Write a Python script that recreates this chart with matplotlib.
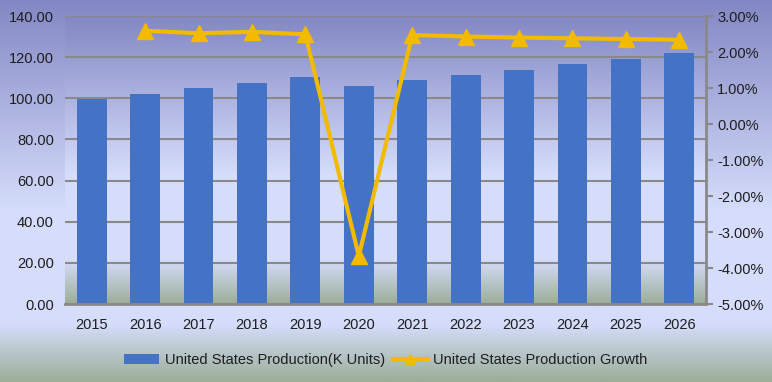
import numpy as np
import matplotlib
matplotlib.use('Agg')
import matplotlib.pyplot as plt
from matplotlib.colors import LinearSegmentedColormap
from matplotlib.ticker import FuncFormatter, MultipleLocator

#%% data
years = ['2015', '2016', '2017', '2018', '2019', '2020',
         '2021', '2022', '2023', '2024', '2025', '2026']
production = [99.6, 102.1, 105.0, 107.4, 110.4, 106.0,
              108.9, 111.3, 113.8, 116.7, 119.1, 122.0]
growth = [np.nan, 2.59, 2.52, 2.56, 2.49, -3.67,
          2.47, 2.43, 2.40, 2.38, 2.36, 2.34]

bar_label = 'United States Production(K Units)'
line_label = 'United States Production Growth'

#%% styling
plt.rcParams['font.family'] = ['Liberation Sans', 'DejaVu Sans']
text_col = '#1e1e1e'
grid_col = '#898989'
bar_col = '#4472C4'
line_col = '#F2BA00'
fs = 10.5

# gradient: purple at top -> light lavender -> grey green at the bottom
grad = LinearSegmentedColormap.from_list(
    'bg', [(0.0, '#9CAE98'), (0.15, '#D5DDFB'), (0.45, '#D5DDFB'), (1.0, '#8387C4')])
g = np.linspace(0, 1, 256).reshape(-1, 1)

fig = plt.figure(figsize=(7.72, 3.82), dpi=100)

# chart area background
ax_bg = fig.add_axes([0, 0, 1, 1], zorder=-2)
ax_bg.imshow(g, cmap=grad, aspect='auto', origin='lower', extent=(0, 1, 0, 1))
ax_bg.axis('off')

pos = [65 / 772, 1 - 304 / 382, 641 / 772, 288 / 382]

# plot area background
ax_pa = fig.add_axes(pos, zorder=-1)
ax_pa.imshow(g, cmap=grad, aspect='auto', origin='lower', extent=(0, 1, 0, 1))
ax_pa.axis('off')

ax = fig.add_axes(pos)
ax.patch.set_visible(False)
x = np.arange(len(years))
bars = ax.bar(x, production, width=0.56, color=bar_col, zorder=2, label=bar_label)
ax.set_xlim(-0.5, len(years) - 0.5)
ax.set_ylim(0, 140)
ax.yaxis.set_major_locator(MultipleLocator(20))
ax.yaxis.set_major_formatter(FuncFormatter(lambda v, p: f'{v:.2f}'))
ax.set_xticks(x)
ax.set_xticklabels(years)
ax.grid(axis='y', color=grid_col, linewidth=1.5, zorder=1)
ax.set_axisbelow(True)
for s in ['top', 'left', 'right']:
    ax.spines[s].set_visible(False)
ax.spines['bottom'].set_color(grid_col)
ax.spines['bottom'].set_linewidth(2)
ax.tick_params(axis='both', length=0, colors=text_col, labelsize=fs)
ax.tick_params(axis='x', pad=10)
ax.tick_params(axis='y', pad=8)

##### growth line on the secondary axis #####
ax2 = ax.twinx()
ax2.patch.set_visible(False)
ln, = ax2.plot(x, growth, color=line_col, linewidth=3, marker='^',
               markersize=11, zorder=3, label=line_label)
ax2.set_ylim(-5, 3)
ax2.yaxis.set_major_locator(MultipleLocator(1))
ax2.yaxis.set_major_formatter(FuncFormatter(lambda v, p: f'{v:.2f}%'))
for s in ['top', 'left', 'bottom']:
    ax2.spines[s].set_visible(False)
ax2.spines['right'].set_color(grid_col)
ax2.spines['right'].set_linewidth(2)
ax2.tick_params(axis='y', length=5, width=1.5, color=grid_col,
                labelcolor=text_col, labelsize=fs, pad=3)

fig.legend([bars, ln], [bar_label, line_label], loc='center',
           bbox_to_anchor=(0.5, 1 - 360 / 382), ncol=2, frameon=False,
           fontsize=fs, handlelength=2.4, columnspacing=0.5, handletextpad=0.4,
           markerscale=0.7, labelcolor=text_col)

fig.savefig('out.png', dpi=100)
